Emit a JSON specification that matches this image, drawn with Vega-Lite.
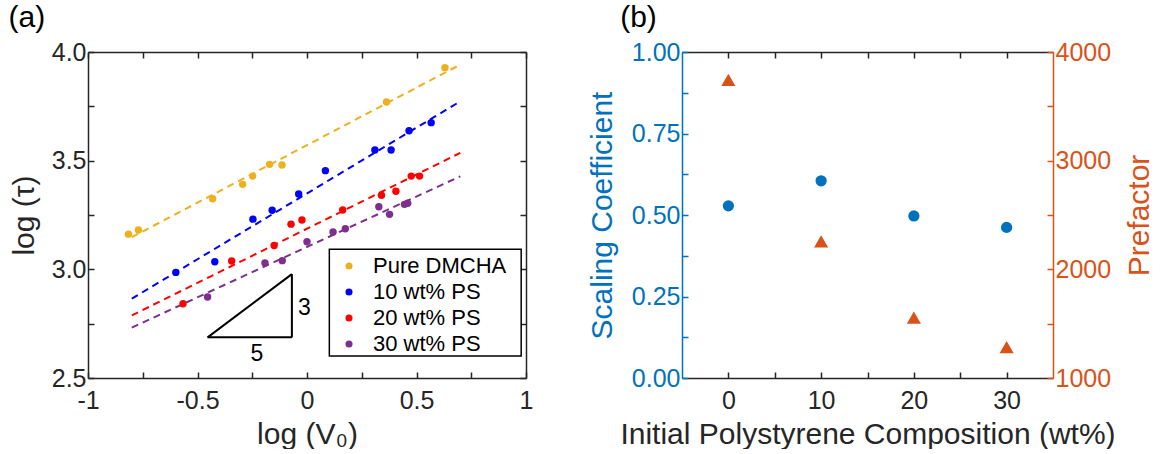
{
  "$schema": "https://vega.github.io/schema/vega-lite/v6.json",
  "padding": {"left": 8, "top": 2, "right": 0, "bottom": 0},
  "spacing": 54,
  "datasets": {
    "points": [
      {"sample": "Pure DMCHA", "logV0": -0.815, "logTau": 3.162},
      {"sample": "Pure DMCHA", "logV0": -0.770, "logTau": 3.181},
      {"sample": "Pure DMCHA", "logV0": -0.431, "logTau": 3.325},
      {"sample": "Pure DMCHA", "logV0": -0.294, "logTau": 3.391},
      {"sample": "Pure DMCHA", "logV0": -0.248, "logTau": 3.429},
      {"sample": "Pure DMCHA", "logV0": -0.171, "logTau": 3.483},
      {"sample": "Pure DMCHA", "logV0": -0.114, "logTau": 3.480},
      {"sample": "Pure DMCHA", "logV0": 0.363, "logTau": 3.770},
      {"sample": "Pure DMCHA", "logV0": 0.630, "logTau": 3.928},
      {"sample": "10 wt% PS", "logV0": -0.599, "logTau": 2.986},
      {"sample": "10 wt% PS", "logV0": -0.421, "logTau": 3.035},
      {"sample": "10 wt% PS", "logV0": -0.247, "logTau": 3.231},
      {"sample": "10 wt% PS", "logV0": -0.159, "logTau": 3.272},
      {"sample": "10 wt% PS", "logV0": -0.038, "logTau": 3.347},
      {"sample": "10 wt% PS", "logV0": 0.084, "logTau": 3.454},
      {"sample": "10 wt% PS", "logV0": 0.310, "logTau": 3.549},
      {"sample": "10 wt% PS", "logV0": 0.384, "logTau": 3.549},
      {"sample": "10 wt% PS", "logV0": 0.466, "logTau": 3.638},
      {"sample": "10 wt% PS", "logV0": 0.567, "logTau": 3.675},
      {"sample": "20 wt% PS", "logV0": -0.566, "logTau": 2.842},
      {"sample": "20 wt% PS", "logV0": -0.344, "logTau": 3.038},
      {"sample": "20 wt% PS", "logV0": -0.150, "logTau": 3.110},
      {"sample": "20 wt% PS", "logV0": -0.073, "logTau": 3.208},
      {"sample": "20 wt% PS", "logV0": -0.023, "logTau": 3.227},
      {"sample": "20 wt% PS", "logV0": 0.163, "logTau": 3.273},
      {"sample": "20 wt% PS", "logV0": 0.340, "logTau": 3.341},
      {"sample": "20 wt% PS", "logV0": 0.406, "logTau": 3.359},
      {"sample": "20 wt% PS", "logV0": 0.476, "logTau": 3.429},
      {"sample": "20 wt% PS", "logV0": 0.514, "logTau": 3.429},
      {"sample": "30 wt% PS", "logV0": -0.454, "logTau": 2.873},
      {"sample": "30 wt% PS", "logV0": -0.192, "logTau": 3.029},
      {"sample": "30 wt% PS", "logV0": -0.113, "logTau": 3.040},
      {"sample": "30 wt% PS", "logV0": 0.000, "logTau": 3.127},
      {"sample": "30 wt% PS", "logV0": 0.119, "logTau": 3.172},
      {"sample": "30 wt% PS", "logV0": 0.175, "logTau": 3.187},
      {"sample": "30 wt% PS", "logV0": 0.328, "logTau": 3.288},
      {"sample": "30 wt% PS", "logV0": 0.377, "logTau": 3.253},
      {"sample": "30 wt% PS", "logV0": 0.445, "logTau": 3.299},
      {"sample": "30 wt% PS", "logV0": 0.460, "logTau": 3.304}
    ],
    "fits": [
      {"sample": "Pure DMCHA", "logV0": -0.8, "logTau": 3.148},
      {"sample": "Pure DMCHA", "logV0": 0.7, "logTau": 3.942},
      {"sample": "10 wt% PS", "logV0": -0.8, "logTau": 2.865},
      {"sample": "10 wt% PS", "logV0": 0.7, "logTau": 3.773},
      {"sample": "20 wt% PS", "logV0": -0.8, "logTau": 2.788},
      {"sample": "20 wt% PS", "logV0": 0.7, "logTau": 3.536},
      {"sample": "30 wt% PS", "logV0": -0.8, "logTau": 2.732},
      {"sample": "30 wt% PS", "logV0": 0.7, "logTau": 3.428}
    ],
    "summary": [
      {"composition": 0, "scaling": 0.528, "prefactor": 3743},
      {"composition": 10, "scaling": 0.605, "prefactor": 2258},
      {"composition": 20, "scaling": 0.497, "prefactor": 1555},
      {"composition": 30, "scaling": 0.462, "prefactor": 1285}
    ]
  },
  "hconcat": [
    {
      "width": 438,
      "height": 326,
      "resolve": {"axis": {"x": "independent", "y": "independent"}},
      "layer": [
        {
          "data": {"name": "fits"},
          "mark": {"type": "line", "strokeDash": [7, 5], "strokeWidth": 2},
          "encoding": {
            "x": {
              "field": "logV0", "type": "quantitative",
              "scale": {"domain": [-1, 1], "nice": false, "zero": false},
              "axis": {
                "orient": "bottom",
                "values": [-1, -0.75, -0.5, -0.25, 0, 0.25, 0.5, 0.75, 1],
                "labelExpr": "(abs(datum.value*2 - round(datum.value*2)) < 0.000001) ? ('' + datum.value) : ''",
                "title": "log (V₀)", "titlePadding": 6, "labelPadding": 16
              }
            },
            "y": {
              "field": "logTau", "type": "quantitative",
              "scale": {"domain": [2.5, 4], "nice": false, "zero": false},
              "axis": {
                "orient": "left",
                "values": [2.5, 2.75, 3, 3.25, 3.5, 3.75, 4],
                "labelExpr": "(abs(datum.value*2 - round(datum.value*2)) < 0.000001) ? format(datum.value, '.1f') : ''",
                "title": "log (τ)", "titlePadding": 12, "labelPadding": 8
              }
            },
            "color": {
              "field": "sample", "type": "nominal",
              "scale": {"domain": ["Pure DMCHA", "10 wt% PS", "20 wt% PS", "30 wt% PS"], "range": ["#EDB120", "#0000FF", "#FF0000", "#7E2F8E"]}
            }
          }
        },
        {
          "data": {"name": "points"},
          "mark": {"type": "circle", "size": 55, "opacity": 1},
          "encoding": {
            "x": {"field": "logV0", "type": "quantitative",
              "axis": {"orient": "top", "values": [-1, -0.75, -0.5, -0.25, 0, 0.25, 0.5, 0.75, 1], "labels": false, "title": null}},
            "y": {"field": "logTau", "type": "quantitative",
              "axis": {"orient": "right", "values": [2.5, 2.75, 3, 3.25, 3.5, 3.75, 4], "labels": false, "title": null}},
            "color": {
              "field": "sample", "type": "nominal",
              "legend": {
                "title": null, "orient": "none", "legendX": 233, "legendY": 200,
                "labelFontSize": 22, "labelColor": "#000000", "labelFont": "Liberation Sans",
                "symbolSize": 50, "symbolType": "circle", "symbolOffset": 14, "labelOffset": 13,
                "symbolStrokeWidth": 0,
                "rowPadding": 4, "padding": 3
              }
            }
          }
        },
        {
          "data": {"values": [{}]},
          "mark": {"type": "rect", "fill": "#ffffff", "stroke": "#000000", "strokeWidth": 1.5},
          "encoding": {
            "x": {"datum": 0.102, "type": "quantitative", "axis": null},
            "x2": {"datum": 0.978},
            "y": {"datum": 3.092, "type": "quantitative", "axis": null},
            "y2": {"datum": 2.601}
          }
        },
        {
          "data": {"values": [{}]},
          "mark": {"type": "rule", "color": "#000000", "strokeWidth": 2},
          "encoding": {
            "x": {"datum": -0.454, "type": "quantitative", "axis": null},
            "x2": {"datum": -0.069},
            "y": {"datum": 2.687, "type": "quantitative", "axis": null}
          }
        },
        {
          "data": {"values": [{}]},
          "mark": {"type": "rule", "color": "#000000", "strokeWidth": 2},
          "encoding": {
            "x": {"datum": -0.069, "type": "quantitative", "axis": null},
            "y": {"datum": 2.687, "type": "quantitative", "axis": null},
            "y2": {"datum": 2.978}
          }
        },
        {
          "data": {"values": [{}]},
          "mark": {"type": "rule", "color": "#000000", "strokeWidth": 2},
          "encoding": {
            "x": {"datum": -0.454, "type": "quantitative", "axis": null},
            "x2": {"datum": -0.069},
            "y": {"datum": 2.687, "type": "quantitative", "axis": null},
            "y2": {"datum": 2.978}
          }
        },
        {
          "data": {"values": [{}]},
          "mark": {"type": "text", "text": "5", "fontSize": 23, "font": "Liberation Sans", "color": "#000000", "align": "center", "baseline": "middle"},
          "encoding": {
            "x": {"datum": -0.229, "type": "quantitative", "axis": null},
            "y": {"datum": 2.610, "type": "quantitative", "axis": null}
          }
        },
        {
          "data": {"values": [{}]},
          "mark": {"type": "text", "text": "3", "fontSize": 23, "font": "Liberation Sans", "color": "#000000", "align": "center", "baseline": "middle"},
          "encoding": {
            "x": {"datum": -0.012, "type": "quantitative", "axis": null},
            "y": {"datum": 2.821, "type": "quantitative", "axis": null}
          }
        },
        {
          "data": {"values": [{}]},
          "mark": {"type": "text", "text": "(a)", "fontSize": 30, "font": "Liberation Sans", "color": "#000000", "align": "left", "baseline": "middle"},
          "encoding": {
            "x": {"datum": -1.363, "type": "quantitative", "axis": null},
            "y": {"datum": 4.157, "type": "quantitative", "axis": null}
          }
        }
      ]
    },
    {
      "width": 371,
      "height": 326,
      "data": {"name": "summary"},
      "resolve": {"scale": {"y": "independent"}, "axis": {"x": "independent", "y": "independent"}},
      "layer": [
        {
          "mark": {"type": "point", "shape": "circle", "filled": true, "size": 127, "opacity": 1, "color": "#0072BD"},
          "encoding": {
            "x": {
              "field": "composition", "type": "quantitative",
              "scale": {"domain": [-5, 35], "nice": false, "zero": false},
              "axis": {
                "orient": "bottom", "values": [0, 5, 10, 15, 20, 25, 30],
                "labelExpr": "(datum.value % 10 == 0) ? ('' + datum.value) : ''",
                "title": "Initial Polystyrene Composition (wt%)", "titlePadding": 6, "labelPadding": 16
              }
            },
            "y": {
              "field": "scaling", "type": "quantitative",
              "scale": {"domain": [0, 1], "nice": false},
              "axis": {
                "orient": "left", "values": [0, 0.125, 0.25, 0.375, 0.5, 0.625, 0.75, 0.875, 1],
                "labelExpr": "(abs(datum.value*4 - round(datum.value*4)) < 0.000001) ? format(datum.value, '.2f') : ''",
                "title": "Scaling Coefficient", "titlePadding": 14, "labelPadding": 8,
                "domainColor": "#0072BD", "tickColor": "#0072BD", "labelColor": "#0072BD", "titleColor": "#0072BD"
              }
            }
          }
        },
        {
          "mark": {"type": "point", "shape": "triangle-up", "filled": true, "size": 200, "opacity": 1, "color": "#D95319"},
          "encoding": {
            "x": {
              "field": "composition", "type": "quantitative",
              "axis": {"orient": "top", "values": [0, 5, 10, 15, 20, 25, 30], "labels": false, "title": null}
            },
            "y": {
              "field": "prefactor", "type": "quantitative",
              "scale": {"domain": [1000, 4000], "nice": false, "zero": false},
              "axis": {
                "orient": "right", "values": [1000, 1500, 2000, 2500, 3000, 3500, 4000],
                "labelExpr": "(datum.value % 1000 == 0) ? ('' + datum.value) : ''",
                "title": "Prefactor", "titlePadding": 14, "labelPadding": 8, "titleAngle": 270, "titleBaseline": "top",
                "domainColor": "#D95319", "tickColor": "#D95319", "labelColor": "#D95319", "titleColor": "#D95319"
              }
            }
          }
        },
        {
          "data": {"values": [{}]},
          "mark": {"type": "text", "text": "(b)", "fontSize": 30, "font": "Liberation Sans", "color": "#000000", "align": "left", "baseline": "middle"},
          "encoding": {
            "x": {"datum": -11.67, "type": "quantitative", "axis": null},
            "y": {"datum": 1.1034, "type": "quantitative", "scale": {"domain": [0, 1], "nice": false, "zero": false}, "axis": null}
          }
        }
      ]
    }
  ],
  "config": {
    "font": "Liberation Sans",
    "view": {"stroke": null},
    "axis": {
      "labelFont": "Liberation Sans", "labelFontSize": 25, "labelColor": "#262626",
      "titleFont": "Liberation Sans", "titleFontSize": 30, "titleFontWeight": "normal", "titleColor": "#262626",
      "domainColor": "#262626", "domainWidth": 1.5, "tickColor": "#262626", "tickSize": -6, "tickWidth": 1.5,
      "grid": false, "labelFlush": false, "labelOverlap": false, "labelBound": false
    }
  }
}
